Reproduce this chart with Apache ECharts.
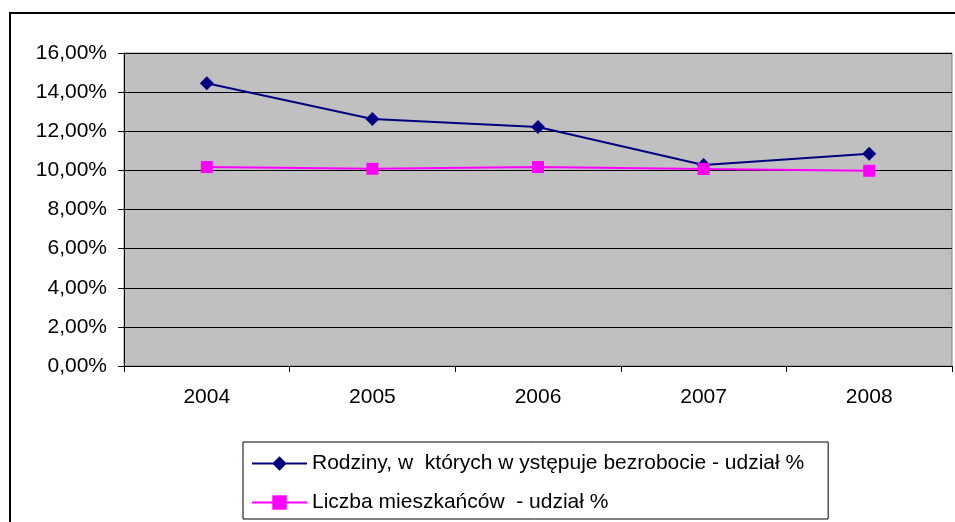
<!DOCTYPE html>
<html>
<head>
<meta charset="utf-8">
<script src="https://cdn.jsdelivr.net/npm/echarts@6/dist/echarts.min.js"></script>
<style>
  html, body { margin: 0; padding: 0; background: #fff; }
  #chart { width: 955px; height: 522px; }
</style>
</head>
<body>
<div id="chart"></div>
<script>
const years = ["2004", "2005", "2006", "2007", "2008"];
const rodziny = [14.45, 12.63, 12.22, 10.27, 10.85];
const mieszkancy = [10.17, 10.08, 10.17, 10.07, 9.98];
const seriesNames = [
  "Rodziny, w  których w ystępuje bezrobocie - udział %",
  "Liczba mieszkańców  - udział %"
];

const chart = echarts.init(document.getElementById("chart"));
const font = "Liberation Sans, Arial, sans-serif";

const option = {
  backgroundColor: "#fff",
  animation: false,
  textStyle: { fontFamily: font },
  graphic: [{
    type: "rect",
    shape: { x: 10, y: 13, width: 960, height: 530 },
    style: { fill: null, stroke: "#000", lineWidth: 2 },
    silent: true,
    z: -1
  }],
  grid: {
    left: 124,
    top: 53,
    right: 3,
    bottom: 156,
    show: true,
    backgroundColor: "#c0c0c0",
    borderColor: "#808080",
    borderWidth: 1
  },
  legend: {
    orient: "vertical",
    left: 243,
    top: 442,
    padding: [11, 24, 6, 8],
    itemWidth: 55,
    itemHeight: 18,
    itemGap: 18,
    borderColor: "#000",
    borderWidth: 1,
    textStyle: { color: "#000", fontSize: 21, fontFamily: font }
  },
  xAxis: {
    type: "category",
    data: years,
    boundaryGap: true,
    axisLine: { lineStyle: { color: "#000", width: 1 } },
    axisTick: { show: true, length: 6, lineStyle: { color: "#000" } },
    axisLabel: { color: "#000", fontSize: 21, margin: 21, fontFamily: font },
    splitLine: { show: false }
  },
  yAxis: {
    type: "value",
    min: 0,
    max: 16,
    interval: 2,
    axisLine: { show: true, lineStyle: { color: "#000", width: 1 } },
    axisTick: { show: true, length: 6, lineStyle: { color: "#000" } },
    axisLabel: {
      color: "#000",
      fontSize: 21,
      margin: 17,
      fontFamily: font,
      formatter: v => v.toFixed(2).replace(".", ",") + "%"
    },
    splitLine: { show: true, lineStyle: { color: "#000", width: 1 } }
  },
  series: [
    {
      name: seriesNames[0],
      type: "line",
      data: rodziny,
      symbol: "diamond",
      symbolSize: 14,
      lineStyle: { color: "#000080", width: 2 },
      itemStyle: { color: "#000080" },
      z: 2
    },
    {
      name: seriesNames[1],
      type: "line",
      data: mieszkancy,
      symbol: "rect",
      symbolSize: 12,
      lineStyle: { color: "#ff00ff", width: 2 },
      itemStyle: { color: "#ff00ff" },
      z: 3
    }
  ]
};

chart.setOption(option);
window.addEventListener("resize", () => {
  chart && chart.resize();
});
</script>
</body>
</html>
